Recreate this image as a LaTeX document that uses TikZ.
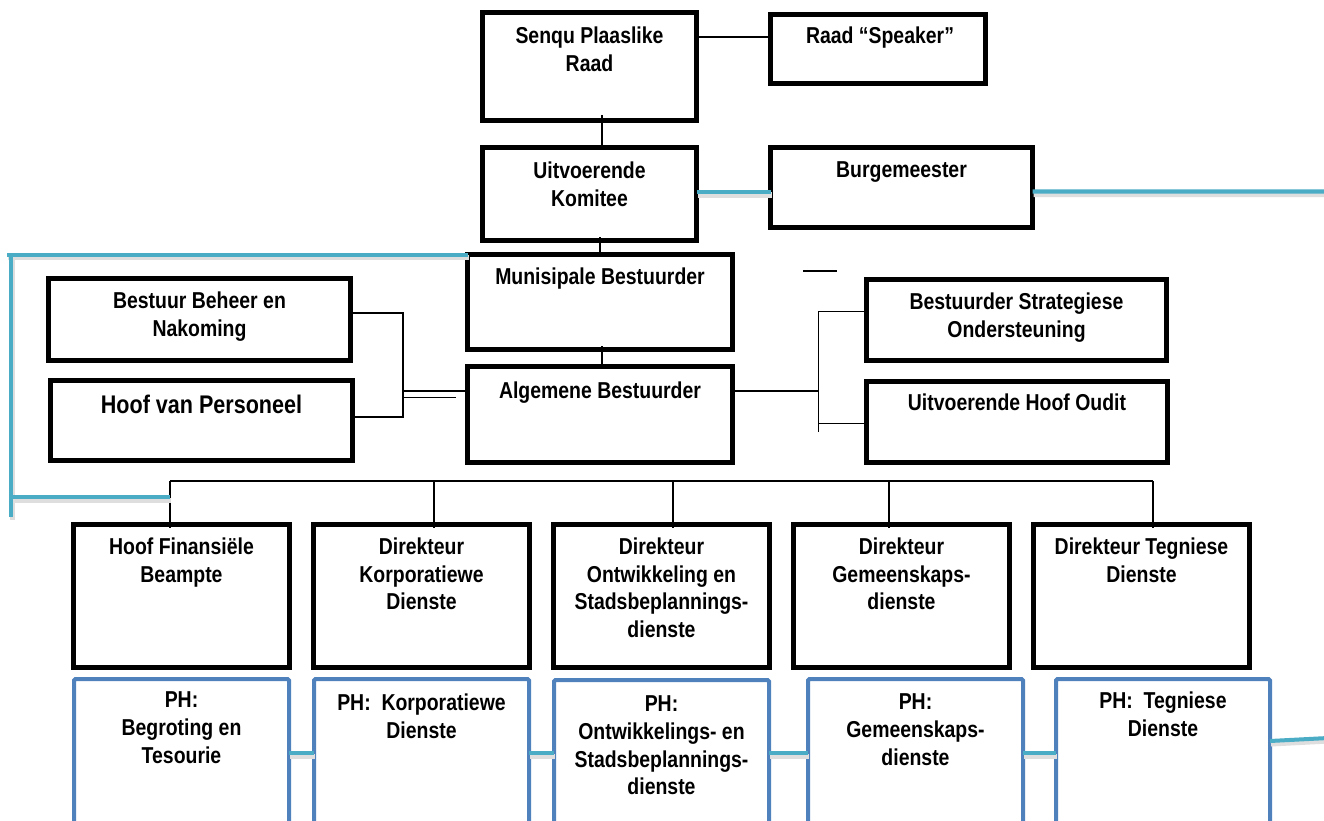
\documentclass[tikz,border=0pt]{standalone}
\usepackage{fontspec}
\setmainfont{Liberation Sans}[FakeStretch=0.845]
\usetikzlibrary{calc}
\definecolor{tealc}{HTML}{4BACC6}
\definecolor{phblue}{HTML}{4F81BD}
\begin{document}
\begin{tikzpicture}[x=1pt,y=-1pt,
  bbox/.style={draw=black, line width=5pt, inner sep=0pt, outer sep=0pt},
  pbox/.style={draw=phblue, line width=4pt, inner sep=0pt, outer sep=0pt, rounded corners=1.5pt},
  lbl/.style={anchor=north, inner sep=0pt, align=center, font=\fontsize{23}{27.8}\selectfont\bfseries},
  biglbl/.style={lbl, font=\fontsize{25.5}{30}\selectfont\bfseries},
  conn/.style={draw=black, line width=1.6pt},
  tline/.style={draw=tealc, line width=4pt},
  tshadow/.style={draw=black!13, line width=5pt, transform canvas={xshift=1pt,yshift=-3pt}},
]
\fill[white] (0,0) rectangle (1324,821);
\useasboundingbox (0,0) rectangle (1324,821);

% ---- black boxes ----
\node[bbox, minimum width=214pt, minimum height=108pt] (senqu) at (589.5,66.5) {};
\node[bbox, minimum width=215pt, minimum height=69pt]  (raad)  at (878,49) {};
\node[bbox, minimum width=214pt, minimum height=93pt]  (uitv)  at (589.5,194) {};
\node[bbox, minimum width=262pt, minimum height=80pt]  (burg)  at (901.5,187.5) {};
\node[bbox, minimum width=265pt, minimum height=95pt]  (muni)  at (600,302) {};
\node[bbox, minimum width=265pt, minimum height=96pt]  (alg)   at (600,414.5) {};
\node[bbox, minimum width=302pt, minimum height=82pt]  (bbn)   at (199.5,319.5) {};
\node[bbox, minimum width=302pt, minimum height=80pt]  (hvp)   at (201.5,420.5) {};
\node[bbox, minimum width=300pt, minimum height=81pt]  (bso)   at (1016.5,320) {};
\node[bbox, minimum width=301pt, minimum height=81pt]  (uho)   at (1017,422) {};
\node[bbox, minimum width=216pt, minimum height=143pt] (dir1)  at (181.5,596) {};
\node[bbox, minimum width=216pt, minimum height=143pt] (dir2)  at (421.5,596) {};
\node[bbox, minimum width=216pt, minimum height=143pt] (dir3)  at (661.5,596) {};
\node[bbox, minimum width=216pt, minimum height=143pt] (dir4)  at (901.5,596) {};
\node[bbox, minimum width=216pt, minimum height=143pt] (dir5)  at (1141.5,596) {};

% ---- blue PH boxes ----
\node[pbox, minimum width=215pt, minimum height=150pt] (ph1) at (181.5,754) {};
\node[pbox, minimum width=215pt, minimum height=150pt] (ph2) at (421.5,754) {};
\node[pbox, minimum width=215pt, minimum height=150pt] (ph3) at (661.5,755) {};
\node[pbox, minimum width=215pt, minimum height=150pt] (ph4) at (915.5,754) {};
\node[pbox, minimum width=214pt, minimum height=150pt] (ph5) at (1163,754) {};

% ---- texts ----
\node[lbl] (senqu-t) at (589.5,26.4) {Senqu Plaaslike\\Raad};
\node[lbl] (raad-t)  at (880,26.4) {Raad “Speaker”};
\node[lbl] (uitv-t)  at (589.5,161.4) {Uitvoerende\\Komitee};
\node[lbl] (burg-t)  at (901.5,161.4) {Burgemeester};
\node[lbl] (muni-t)  at (600,267.4) {Munisipale Bestuurder};
\node[lbl] (alg-t)   at (600,381.4) {Algemene Bestuurder};
\node[lbl] (bbn-t)   at (199.5,291.4) {Bestuur Beheer en\\Nakoming};
\node[biglbl] (hvp-t) at (201.5,394.6) {Hoof van Personeel};
\node[lbl] (bso-t)   at (1016.5,292.4) {Bestuurder Strategiese\\Ondersteuning};
\node[lbl] (uho-t)   at (1017,393.4) {Uitvoerende Hoof Oudit};
\node[lbl] (dir1-t)  at (181.5,537.4) {Hoof Finansiële\\Beampte};
\node[lbl] (dir2-t)  at (421.5,537.4) {Direkteur\\Korporatiewe\\Dienste};
\node[lbl] (dir3-t)  at (661.5,537.4) {Direkteur\\Ontwikkeling en\\Stadsbeplannings-\\dienste};
\node[lbl] (dir4-t)  at (901.5,537.4) {Direkteur\\Gemeenskaps-\\dienste};
\node[lbl] (dir5-t)  at (1141.5,537.4) {Direkteur Tegniese\\Dienste};
\node[lbl] (ph1-t)   at (181.5,691.4) {PH:\\Begroting en\\Tesourie};
\node[lbl] (ph2-t)   at (421.5,693.4) {PH:~~Korporatiewe\\Dienste};
\node[lbl] (ph3-t)   at (661.5,695.4) {PH:\\Ontwikkelings- en\\Stadsbeplannings-\\dienste};
\node[lbl] (ph4-t)   at (915.5,693.4) {PH:\\Gemeenskaps-\\dienste};
\node[lbl] (ph5-t)   at (1163,691.4) {PH:~~Tegniese\\Dienste};

% ---- coordinates ----
\coordinate (bus1) at (170,481);
\coordinate (bus2) at (434,481);
\coordinate (bus3) at (673,481);
\coordinate (bus4) at (889,481);
\coordinate (bus5) at (1153,481);
\coordinate (jl) at (403,417);
\coordinate (jd1) at (403,391);
\coordinate (jd2) at (403,397.5);
\coordinate (jd3) at (456,397.5);
\coordinate (jr) at (818.5,391);
\coordinate (jrt) at (818.5,311.5);
\coordinate (jrb) at (818.5,432);
\coordinate (st1) at (803,271);
\coordinate (st2) at (837,271);
\coordinate (tl0) at (7,254.5);
\coordinate (tl1) at (11,254.5);
\coordinate (tl2) at (11,517);
\coordinate (tl3) at (11,497);
\coordinate (tr1) at (1328,191.5);
\coordinate (tr2) at (1328,738);

% ---- black connectors ----
\draw[conn] ([yshift=29.5pt]senqu.east) -- ([yshift=12pt]raad.west);
\draw[conn] ([xshift=12.5pt,yshift=5.5pt]senqu.south) -- ([xshift=12.5pt,yshift=-2.5pt]uitv.north);
\draw[conn] ([xshift=10.5pt,yshift=3.5pt]uitv.south) -- (muni.north);
\draw[conn] ([xshift=2pt,yshift=3.5pt]muni.south) -- ([xshift=2pt,yshift=-1.5pt]alg.north);
\draw[conn] (st1) -- (st2);
\draw[conn] ([yshift=6.5pt]bbn.east) -| (jl) -- ([yshift=3.5pt]hvp.east);
\draw[conn] (jd1) -- ([yshift=23.5pt]alg.west);
\draw[conn] (jd2) -- (jd3);
\draw[conn] ([yshift=23.5pt]alg.east) -- (jr);
\draw[conn] (jrb) -- (jrt) -- ([yshift=8.5pt]bso.west);
\draw[conn] (uho.west |- 0,423.5) -- (jrt |- 0,423.5);
\draw[conn] (bus1) -- (bus5);
\draw[conn] (bus1) -- ([xshift=-11.5pt,yshift=-3pt]dir1.north);
\draw[conn] (bus2) -- ([xshift=12.5pt,yshift=-3pt]dir2.north);
\draw[conn] (bus3) -- ([xshift=11.5pt,yshift=-3pt]dir3.north);
\draw[conn] (bus4) -- ([xshift=-12.5pt,yshift=-3pt]dir4.north);
\draw[conn] (bus5) -- ([xshift=11.5pt,yshift=-3pt]dir5.north);

% ---- teal connectors (with soft shadow) ----
\draw[tshadow] ([yshift=2pt]uitv.east) -- ([yshift=-4.5pt]burg.west);
\draw[tshadow] ([yshift=-4pt]burg.east) -- (tr1) -- (tr2) -- ([yshift=13pt]ph5.east);
\draw[tshadow] (muni.north west) -- (tl0);
\draw[tshadow] (tl1) -- (tl2);
\draw[tshadow] (tl3) -- (bus1 |- tl3);
\draw[tshadow] ([yshift=1pt]ph1.east) -- ([yshift=1pt]ph2.west);
\draw[tshadow] ([yshift=1pt]ph2.east) -- ([yshift=2pt]ph3.west);
\draw[tshadow] ([yshift=2pt]ph3.east) -- ([yshift=1pt]ph4.west);
\draw[tshadow] ([yshift=1pt]ph4.east) -- ([yshift=1pt]ph5.west);

\draw[tline] ([yshift=2pt]uitv.east) -- ([yshift=-4.5pt]burg.west);
\draw[tline] ([yshift=-4pt]burg.east) -- (tr1) -- (tr2) -- ([yshift=13pt]ph5.east);
\draw[tline] (muni.north west) -- (tl0);
\draw[tline] (tl1) -- (tl2);
\draw[tline] (tl3) -- (bus1 |- tl3);
\draw[tline] ([yshift=1pt]ph1.east) -- ([yshift=1pt]ph2.west);
\draw[tline] ([yshift=1pt]ph2.east) -- ([yshift=2pt]ph3.west);
\draw[tline] ([yshift=2pt]ph3.east) -- ([yshift=1pt]ph4.west);
\draw[tline] ([yshift=1pt]ph4.east) -- ([yshift=1pt]ph5.west);
\end{tikzpicture}
\end{document}
